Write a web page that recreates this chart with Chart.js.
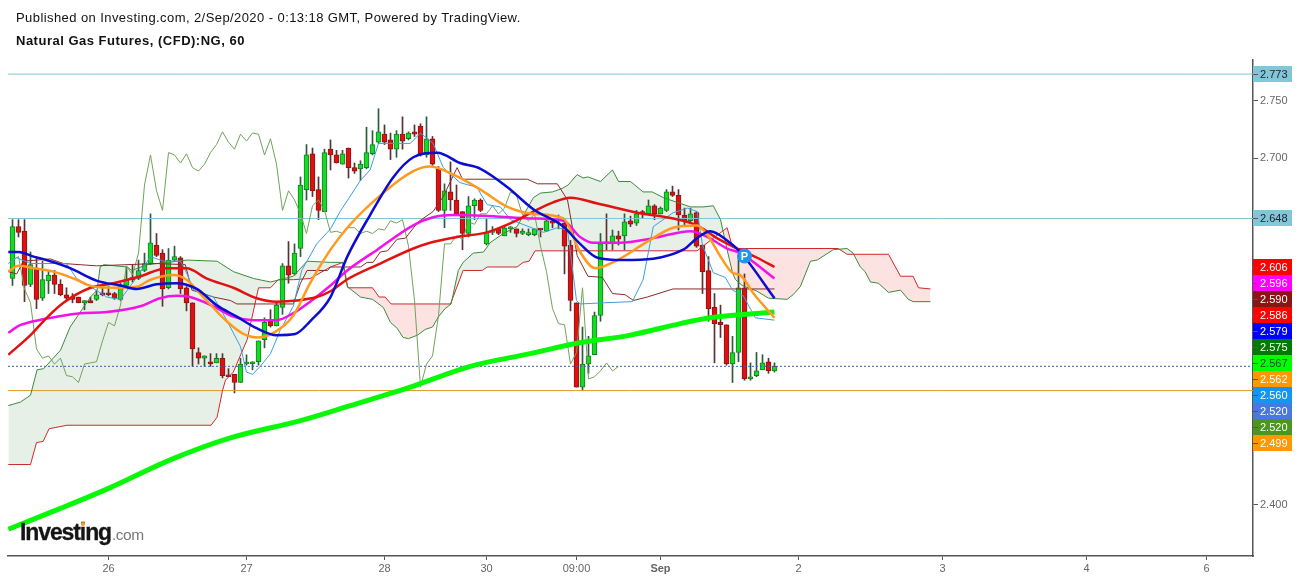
<!DOCTYPE html>
<html>
<head>
<meta charset="utf-8">
<title>Natural Gas Futures</title>
<script src="https://cdn.jsdelivr.net/npm/chart.js@4"></script>
<style>
html, body { margin: 0; padding: 0; background: #fff; overflow: hidden; }
#wrap { position: relative; width: 1299px; height: 580px; font-family: "Liberation Sans", Arial, sans-serif; }
canvas { position: absolute; left: 0; top: 0; }
.head { position: absolute; left: 16px; font-size: 13px; color: #111; white-space: nowrap; }
#pub { top: 10px; letter-spacing: 0.42px; }
#sym { top: 33px; font-weight: bold; letter-spacing: 0.5px; }
#logo { position: absolute; left: 20px; top: 519px; white-space: nowrap; color: #151515; font-weight: bold; font-size: 23px; letter-spacing: -1.1px; -webkit-text-stroke: 0.3px #151515; }
#logo span { color: #777; font-weight: normal; font-size: 15.5px; letter-spacing: -0.5px; -webkit-text-stroke: 0; margin-left: 1px; }
#logo i { position: absolute; left: 61px; top: 3px; width: 4px; height: 4px; border-radius: 2px; background: #f5a030; }
</style>
</head>
<body>
<div id="wrap">
<canvas id="chart" width="1299" height="580"></canvas>
<div class="head" id="pub">Published on Investing.com, 2/Sep/2020 - 0:13:18 GMT, Powered by TradingView.</div>
<div class="head" id="sym">Natural Gas Futures, (CFD):NG, 60</div>
<div id="logo">Investing<span>.com</span><i></i></div>
</div>
<script>
// hourly candles
var candleOpen = [2.596,2.641,2.637,2.591,2.605,2.579,2.594,2.599,2.591,2.582,
2.580,2.580,2.575,2.577,2.578,2.583,2.583,2.583,2.578,2.590,
2.596,2.596,2.603,2.609,2.625,2.618,2.588,2.612,2.614,2.588,
2.575,2.532,2.527,2.524,2.523,2.527,2.512,2.513,2.506,2.522,
2.522,2.524,2.543,2.559,2.555,2.571,2.607,2.600,2.622,2.673,
2.704,2.673,2.654,2.708,2.703,2.695,2.709,2.692,2.691,2.692,
2.704,2.714,2.721,2.716,2.708,2.721,2.717,2.723,2.728,2.703,
2.717,2.691,2.655,2.671,2.664,2.654,2.635,2.659,2.664,2.626,
2.636,2.639,2.633,2.639,2.639,2.635,2.634,2.634,2.639,2.637,
2.645,2.646,2.644,2.625,2.575,2.502,2.522,2.530,2.564,2.627,
2.626,2.633,2.633,2.646,2.644,2.654,2.652,2.659,2.652,2.655,
2.671,2.668,2.651,2.646,2.653,2.625,2.603,2.571,2.558,2.556,
2.522,2.532,2.588,2.509,2.512,2.517,2.524,2.516];
var candleClose = [2.641,2.636,2.590,2.608,2.578,2.595,2.599,2.591,2.582,2.579,
2.578,2.575,2.577,2.575,2.582,2.582,2.582,2.579,2.590,2.595,
2.595,2.603,2.609,2.627,2.616,2.587,2.612,2.615,2.587,2.575,
2.535,2.527,2.529,2.522,2.527,2.512,2.511,2.506,2.522,2.523,
2.524,2.542,2.558,2.555,2.573,2.607,2.599,2.618,2.677,2.703,
2.672,2.655,2.705,2.703,2.696,2.704,2.692,2.689,2.695,2.705,
2.712,2.723,2.714,2.708,2.721,2.715,2.722,2.721,2.703,2.717,
2.695,2.655,2.672,2.664,2.652,2.635,2.659,2.664,2.655,2.636,
2.637,2.635,2.640,2.640,2.635,2.637,2.635,2.639,2.638,2.646,
2.644,2.647,2.624,2.577,2.502,2.522,2.529,2.564,2.626,2.626,
2.633,2.630,2.645,2.643,2.652,2.652,2.659,2.652,2.657,2.671,
2.668,2.651,2.646,2.652,2.624,2.602,2.570,2.557,2.556,2.522,
2.532,2.588,2.509,2.511,2.516,2.523,2.516,2.520];
var candleHigh = [2.647,2.647,2.647,2.619,2.615,2.611,2.603,2.603,2.595,2.588,
2.583,2.580,2.577,2.580,2.586,2.588,2.589,2.584,2.592,2.606,
2.608,2.612,2.618,2.652,2.635,2.621,2.622,2.624,2.615,2.589,
2.575,2.536,2.529,2.531,2.531,2.531,2.518,2.513,2.527,2.530,
2.524,2.542,2.562,2.569,2.576,2.609,2.628,2.626,2.684,2.712,
2.709,2.684,2.708,2.716,2.707,2.707,2.709,2.696,2.698,2.727,
2.724,2.743,2.729,2.722,2.724,2.736,2.723,2.729,2.730,2.736,
2.719,2.693,2.678,2.697,2.677,2.654,2.667,2.665,2.665,2.648,
2.641,2.640,2.641,2.641,2.639,2.639,2.639,2.639,2.639,2.647,
2.647,2.651,2.645,2.629,2.575,2.554,2.546,2.567,2.635,2.652,
2.638,2.637,2.652,2.650,2.655,2.655,2.664,2.660,2.658,2.673,
2.676,2.673,2.657,2.657,2.654,2.625,2.615,2.583,2.573,2.556,
2.546,2.615,2.600,2.523,2.532,2.530,2.527,2.523];
var candleLow = [2.590,2.632,2.576,2.589,2.570,2.577,2.583,2.583,2.581,2.577,
2.575,2.575,2.569,2.575,2.577,2.581,2.581,2.578,2.577,2.589,
2.593,2.595,2.602,2.608,2.615,2.572,2.587,2.611,2.583,2.568,
2.520,2.522,2.520,2.520,2.523,2.510,2.511,2.497,2.506,2.521,
2.517,2.521,2.536,2.554,2.555,2.565,2.592,2.599,2.615,2.664,
2.667,2.647,2.654,2.690,2.696,2.695,2.683,2.687,2.681,2.691,
2.703,2.713,2.712,2.699,2.701,2.708,2.716,2.719,2.702,2.701,
2.694,2.654,2.640,2.655,2.651,2.621,2.632,2.647,2.654,2.625,
2.634,2.634,2.633,2.636,2.632,2.634,2.633,2.633,2.632,2.637,
2.640,2.639,2.600,2.568,2.502,2.499,2.514,2.530,2.559,2.621,
2.621,2.625,2.621,2.641,2.642,2.648,2.651,2.647,2.652,2.654,
2.667,2.638,2.641,2.645,2.623,2.583,2.559,2.523,2.545,2.521,
2.506,2.524,2.508,2.508,2.511,2.517,2.514,2.515];

// indicator lines as [bar, price]
var sma200 = [[-0.7,2.379],[8,2.397],[16.3,2.415],[26.3,2.439],[36.3,2.458],[48,2.473],[56.3,2.486],[66.3,2.502],
[76.3,2.520],[86.3,2.531],[94.1,2.540],[103,2.547],[111.3,2.557],[116.3,2.562],[127,2.567]];
var maRed = [[-0.7,2.530],[3,2.547],[5.7,2.562],[8.5,2.575],[13,2.588],[16.8,2.592],[21.3,2.598],[25.7,2.605],[29,2.605],
[32.4,2.596],[36.8,2.588],[40.7,2.579],[44,2.576],[47.4,2.577],[50.7,2.580],[53,2.585],[55.7,2.595],[61.3,2.609],
[66.8,2.622],[69.6,2.627],[74.1,2.632],[79.1,2.636],[83.5,2.645],[86.8,2.654],[90.1,2.662],[93,2.666],[97.5,2.661],
[104.1,2.653],[110.1,2.648],[114.1,2.642],[117.4,2.631],[120.8,2.622],[124.1,2.614],[127,2.606]];
var maBlue = [[-0.7,2.619],[1,2.619],[3.5,2.615],[6.3,2.611],[9.6,2.605],[14.1,2.594],[18,2.590],[20.7,2.587],[24,2.591],
[27.4,2.592],[30.7,2.587],[34,2.573],[37.4,2.563],[40.7,2.553],[44,2.547],[47.1,2.548],[49.6,2.559],[53,2.580],
[55.8,2.615],[59.6,2.651],[63.5,2.684],[66.8,2.701],[70.8,2.705],[74.6,2.696],[78,2.691],[82.5,2.675],[86.8,2.656],
[91.8,2.641],[94.6,2.626],[97.5,2.614],[101.8,2.612],[111.8,2.621],[114.1,2.631],[116.3,2.637],[119.1,2.629],[121.3,2.619],[127,2.579]];
var maOrange = [[-0.7,2.602],[1,2.607],[3.5,2.605],[6.8,2.602],[10.2,2.596],[13.5,2.589],[17.4,2.588],[20.7,2.589],[23,2.595],
[26.8,2.599],[29,2.595],[31.8,2.580],[35.7,2.559],[38.5,2.548],[40.7,2.545],[43.5,2.549],[46.8,2.564],[49.6,2.592],[53,2.621],
[55.8,2.640],[61.3,2.668],[66.8,2.689],[69.6,2.693],[73.5,2.686],[78,2.673],[82.5,2.658],[86.8,2.652],[91.8,2.648],[94.6,2.619],
[97.1,2.605],[100.8,2.612],[105.8,2.628],[110.1,2.640],[114.1,2.642],[115.8,2.634],[118,2.615],[120,2.601],[121.3,2.599],[123.5,2.583],[127,2.562]];
var maMagenta = [[-0.7,2.549],[1,2.555],[3.5,2.559],[7.4,2.563],[11.3,2.566],[15.7,2.567],[21.3,2.572],[24.6,2.579],[27.4,2.581],
[29.6,2.580],[33.5,2.572],[36.8,2.563],[40.2,2.560],[44,2.560],[46.8,2.566],[49.6,2.576],[53,2.590],[55.8,2.603],[60.8,2.621],
[66.8,2.642],[70.1,2.649],[73.5,2.651],[80.1,2.650],[86.3,2.648],[91.8,2.646],[94.6,2.632],[96.8,2.627],[101.3,2.627],[106.8,2.631],
[113,2.637],[115.8,2.632],[119.1,2.622],[121.3,2.618],[127,2.596]];
var tenkan = [[-0.7,2.609],[0.7,2.614],[3,2.609],[9,2.609],[10.7,2.596],[13,2.589],[15.7,2.580],[18,2.578],[20.7,2.597],[23,2.615],
[25.2,2.611],[28,2.611],[29,2.601],[30.2,2.586],[33.5,2.580],[35.7,2.560],[38,2.537],[39,2.515],[40,2.513],[41.3,2.520],[43,2.531],
[44.6,2.551],[46.8,2.572],[48.2,2.603],[50.7,2.626],[53,2.639],[54.6,2.654],[58,2.681],[59.6,2.690],[61,2.713],[66.3,2.713],[68,2.722],
[70.1,2.713],[71.8,2.692],[74.6,2.679],[77.4,2.675],[79.1,2.660],[81.3,2.658],[83,2.647],[88.5,2.636],[90.8,2.640],[92.5,2.638],[94,2.577],
[94.6,2.574],[98.5,2.575],[103.3,2.576],[105.1,2.595],[106.8,2.641],[110.1,2.653],[112.5,2.657],[114.1,2.654],[115,2.625],[116.8,2.601],
[118.8,2.597],[120,2.586],[121.8,2.581],[123.8,2.562],[127,2.560]];
var kijun = [[-0.7,2.602],[0.7,2.600],[1.8,2.611],[6.3,2.613],[8.5,2.609],[14,2.607],[24,2.609],[28.8,2.608],[29.9,2.586],[33.5,2.580],
[36.3,2.577],[37.4,2.574],[46.8,2.574],[48,2.592],[49.1,2.603],[52.5,2.603],[53,2.606],[58,2.606],[59.1,2.610],[60.1,2.610],[61.3,2.619],
[62.5,2.620],[64.1,2.630],[65.5,2.631],[67.6,2.645],[70.1,2.654],[71.8,2.667],[74.1,2.692],[75,2.682],[85.8,2.682],[87.5,2.678],[90.8,2.678],
[92.5,2.664],[93.5,2.635],[94.1,2.616],[95.9,2.598],[98.3,2.597],[100,2.583],[102.1,2.582],[103.5,2.577],[105.8,2.580],[110.1,2.587],[127,2.587]];
var senkouA = [[-0.7,2.486],[1.3,2.489],[3,2.495],[4.1,2.517],[5.2,2.518],[8,2.534],[9.6,2.554],[13,2.580],[14.1,2.586],[14.6,2.606],[15.2,2.608],
[19.1,2.606],[19.9,2.603],[22.4,2.608],[29.1,2.612],[34.1,2.611],[36.8,2.602],[40.2,2.596],[43,2.593],[46.8,2.598],[49.1,2.611],[53,2.610],
[55,2.610],[55.8,2.589],[58,2.580],[60,2.578],[61.8,2.571],[63,2.558],[64.1,2.553],[65.1,2.545],[66,2.544],[67.5,2.547],[68.8,2.552],[70,2.554],
[71,2.563],[72.1,2.570],[73.1,2.574],[74.3,2.603],[75.1,2.610],[76.8,2.618],[78.5,2.619],[79.6,2.627],[81.8,2.635],[84.1,2.641],[86.8,2.666],
[88,2.670],[90,2.671],[91.6,2.674],[92.6,2.677],[94.1,2.686],[95.1,2.683],[95.9,2.684],[98,2.680],[100,2.690],[101,2.680],[103,2.680],[105.1,2.671],
[106.6,2.671],[108.5,2.666],[113,2.658],[115.1,2.658],[116.8,2.659],[118,2.647],[119.1,2.621],[120,2.601],[120.5,2.595],[121.6,2.590],[124.1,2.585],
[126,2.579],[129.1,2.578],[130.1,2.582],[131.3,2.589],[133,2.611],[134.1,2.612],[136.8,2.621],[139.1,2.622],[140.1,2.618],[141.3,2.606],[142.1,2.602],
[143,2.593],[144.3,2.592],[146,2.584],[148,2.586],[149.3,2.578],[150.1,2.576],[153,2.576]];
var senkouB = [[-0.7,2.435],[3,2.435],[4,2.454],[5.1,2.455],[6.1,2.466],[7.1,2.467],[9.1,2.469],[33.1,2.469],[34.1,2.476],[35,2.499],[35.5,2.508],
[36.8,2.515],[39.1,2.543],[41,2.588],[43,2.588],[44.3,2.595],[46.8,2.595],[49.6,2.596],[53,2.606],[55.1,2.610],[55.9,2.588],[60,2.588],[61.1,2.580],
[62.1,2.580],[63.1,2.574],[73,2.574],[75.1,2.603],[78.3,2.603],[79.1,2.606],[84.1,2.606],[85.1,2.610],[86.1,2.611],[87.1,2.620],[114.1,2.620],[116.3,2.629],
[119.1,2.640],[120,2.623],[121,2.622],[137.6,2.622],[139.1,2.617],[146,2.617],[148,2.598],[150.1,2.598],[151,2.588],[153,2.587]];
var chikouShift = 26;

// horizontal levels and the pivot bubble
var levelTop = 2.773;
var levelMid = 2.648;
var levelOrange = 2.499;
var levelLast = 2.520;
var pivotBar = 122;
var pivotPrice = 2.6155;

// axes
var xMin = -0.75, xMax = 206.75, yMin = 2.3558, yMax = 2.7852;
var xTickBars = [16,39,62,79,94,108,131,155,179,199];
var xTickLabels = ['26','27','28','30','09:00','Sep','2','3','4','6'];
var yTickValues = [2.75,2.7,2.4];

// price tags on the right side, top to bottom
var tagValues = [2.773,2.648,2.606,2.596,2.590,2.586,2.579,2.575,2.567,2.562,2.560,2.520,2.520,2.499];
var tagColors = ['#80c8d8','#80c8d8','#ff0000','#ff00ff','#8b1515','#ff0000','#0000ff','#007a00','#00ff00','#ff9800','#1496f0','#4a78e0','#4a961e','#ff9800'];
var tagText = ['#223','#223','#fff','#fff','#fff','#fff','#fff','#fff','#143','#fff','#fff','#fff','#fff','#fff'];

function pts(a) {
    return a.map(function (p) { return { x: p[0], y: p[1] }; });
}
function flat(v) {
    return [{ x: xMin, y: v }, { x: xMax, y: v }];
}
function line(data, color, width, order, extra) {
    var d = {
        type: 'line', data: data, borderColor: color, borderWidth: width,
        pointRadius: 0, tension: 0, order: order, fill: false
    };
    for (var k in extra) d[k] = extra[k];
    return d;
}

var bodies = [], wicks = [], bodyFill = [], bodyEdge = [], wickColor = [];
var i;
for (i = 0; i < candleOpen.length; i++) {
    var up = candleClose[i] >= candleOpen[i];
    bodies.push({ x: i, y: [candleOpen[i], candleClose[i]] });
    wicks.push({ x: i, y: [candleLow[i], candleHigh[i]] });
    bodyFill.push(up ? '#12dd22' : '#dd1111');
    bodyEdge.push(up ? '#1a7a2a' : '#8a1515');
    wickColor.push(up ? '#2c5a3c' : '#5a3030');
}
var chikou = candleClose.slice(chikouShift).map(function (c, n) { return { x: n, y: c }; });

var smooth = { cubicInterpolationMode: 'monotone' };
var datasets = [
    { type: 'line', data: [{ x: pivotBar, y: pivotPrice }], showLine: false, pointRadius: 7.5, pointBorderWidth: 0,
      pointBackgroundColor: '#1e96f0', order: 0 },
    line(pts(maRed), '#e21212', 2.5, 3, smooth),
    line(pts(maMagenta), '#f014e8', 2.5, 4, smooth),
    line(pts(maOrange), '#ff9a1e', 2.5, 2, smooth),
    line(pts(maBlue), '#0c0cd2', 2.5, 1, smooth),
    line(pts(sma200), '#08f808', 5, 5, smooth),
    line(pts(tenkan), '#3a9fe0', 1, 7),
    line(pts(kijun), '#8b2a2a', 1, 7),
    line(chikou, '#6fa35a', 1, 7),
    line(pts(senkouA), '#3c8a3c', 1, 8, { fill: { target: '+1', above: 'rgba(30,120,30,0.11)', below: 'rgba(240,30,30,0.13)' } }),
    line(pts(senkouB), '#cc2a2a', 1, 8),
    line(flat(levelTop), '#7fc7d3', 1, 9),
    line(flat(levelMid), '#7fc7d3', 1, 9),
    line(flat(levelOrange), '#e09a30', 1, 9),
    line(flat(levelLast), '#3a5fa8', 1, 9, { borderDash: [2, 2] }),
    { type: 'bar', data: bodies, backgroundColor: bodyFill, borderColor: bodyEdge, borderWidth: 1, borderSkipped: false,
      barThickness: 5, minBarLength: 2, grouped: false, order: 20 },
    { type: 'bar', data: wicks, backgroundColor: wickColor, borderWidth: 0, barThickness: 1, grouped: false, order: 21 }
];

// stacked price tags and the P on the bubble
var overlay = {
    id: 'overlay',
    afterDraw: function (c) {
        var ctx = c.ctx, sy = c.scales.y, sx = c.scales.x;
        var right = c.chartArea.right, prev = -100;
        ctx.save();
        ctx.font = '11px "Liberation Sans", Arial, sans-serif';
        ctx.textBaseline = 'middle';
        for (var n = 0; n < tagValues.length; n++) {
            var y = Math.round(sy.getPixelForValue(tagValues[n]));
            if (y < prev + 16) y = prev + 16;
            prev = y;
            ctx.fillStyle = tagColors[n];
            ctx.fillRect(right, y - 8, 39, 16);
            ctx.fillStyle = '#555';
            ctx.fillRect(right, y, 5, 1);
            ctx.fillStyle = tagText[n];
            ctx.textAlign = 'left';
            ctx.fillText(tagValues[n].toFixed(3), right + 7, y + 1);
        }
        ctx.fillStyle = '#fff';
        ctx.font = 'bold 11px "Liberation Sans", Arial, sans-serif';
        ctx.textAlign = 'center';
        ctx.fillText('P', sx.getPixelForValue(pivotBar), sy.getPixelForValue(pivotPrice) + 0.5);
        ctx.restore();
    }
};

var myChart = new Chart(document.getElementById('chart'), {
    type: 'bar',
    data: { datasets: datasets },
    plugins: [overlay],
    options: {
        responsive: false,
        animation: false,
        events: [],
        layout: { padding: { left: 8, top: 60, right: 0, bottom: 0 } },
        plugins: { legend: { display: false }, tooltip: { enabled: false }, filler: { drawTime: 'beforeDatasetsDraw' } },
        scales: {
            x: {
                type: 'linear', min: xMin, max: xMax, offset: false,
                grid: { drawOnChartArea: false, offset: false, tickLength: 4, color: '#555' },
                border: { color: '#555', width: 1.5 },
                afterFit: function (s) { s.height = 24; },
                afterBuildTicks: function (s) { s.ticks = xTickBars.map(function (v) { return { value: v }; }); },
                ticks: {
                    autoSkip: false, maxRotation: 0, padding: 2, color: '#666',
                    font: function (ctx) {
                        return { family: '"Liberation Sans", Arial, sans-serif', size: 11, weight: ctx.tick && ctx.tick.label === 'Sep' ? 'bold' : 'normal' };
                    },
                    callback: function (v) { return xTickLabels[xTickBars.indexOf(v)]; }
                }
            },
            y: {
                type: 'linear', position: 'right', min: yMin, max: yMax,
                grid: { drawOnChartArea: false, tickLength: 5, color: '#555' },
                border: { color: '#555', width: 1.5 },
                afterFit: function (s) { s.width = 46; },
                afterBuildTicks: function (s) { s.ticks = yTickValues.map(function (v) { return { value: v }; }); },
                ticks: {
                    autoSkip: false, padding: 2, color: '#666',
                    font: { family: '"Liberation Sans", Arial, sans-serif', size: 11 },
                    callback: function (v) { return v.toFixed(3); }
                }
            }
        }
    }
});
</script>
</body>
</html>
